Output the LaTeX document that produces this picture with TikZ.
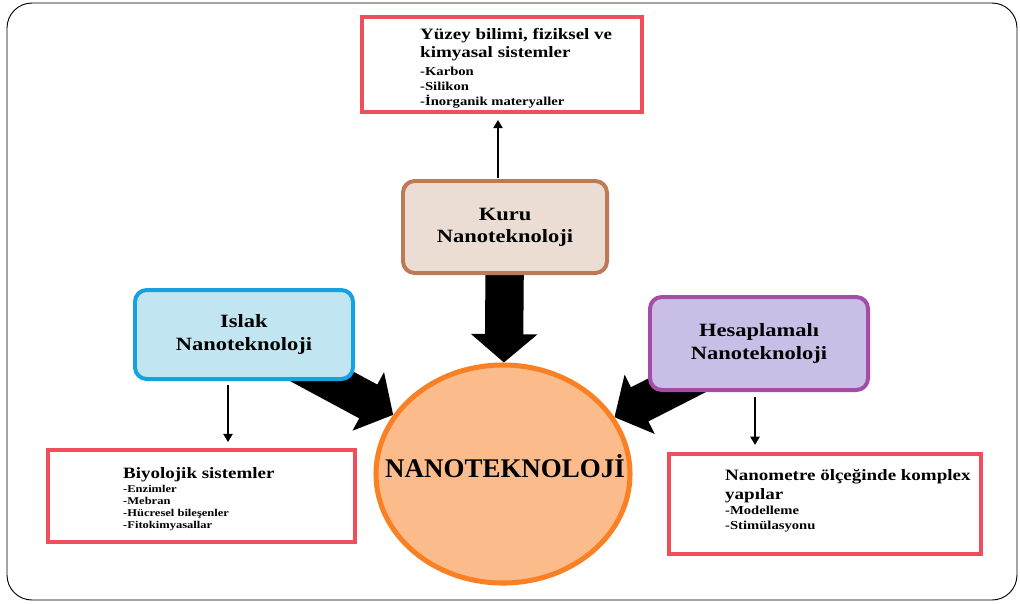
\documentclass[tikz,border=0pt]{standalone}
\usepackage{fontspec}
\setmainfont[FakeStretch=1.2]{Liberation Serif}
\newfontfamily\bigserif{Liberation Serif}
\usetikzlibrary{arrows.meta,shapes.geometric,backgrounds}

\definecolor{kurufill}{RGB}{235,221,212}
\definecolor{kurudraw}{RGB}{190,122,86}
\definecolor{islakfill}{RGB}{193,230,241}
\definecolor{islakdraw}{RGB}{22,162,226}
\definecolor{hesapfill}{RGB}{200,190,230}
\definecolor{hesapdraw}{RGB}{163,76,168}
\definecolor{boxred}{RGB}{240,78,90}
\definecolor{nanofill}{RGB}{252,187,138}
\definecolor{nanodraw}{RGB}{250,128,36}

\newcommand\titlefnt{\fontsize{16}{19}\selectfont\bfseries}
\newcommand\headfnt{\fontsize{13.5}{15.4}\selectfont\bfseries}
\newcommand\itemfnt{\fontsize{10.4}{12.6}\selectfont\bfseries}
\newcommand\smallitemfnt{\fontsize{8.9}{10.3}\selectfont\bfseries}

\tikzset{
  kind/.style={draw, line width=3.4pt, rounded corners=10pt, align=center, font=\titlefnt},
  redbox/.style={draw=boxred, line width=3.6pt},
  boxtext/.style={anchor=north west, inner sep=0pt, align=left},
  bigarrow/.style={line width=1.15cm, -{Triangle[length=0.85cm,width=1.95cm]}},
  thinarrow/.style={line width=1.2pt, -{Triangle[length=7pt,width=8pt]}}
}

\begin{document}
\begin{tikzpicture}[x=0.03cm,y=-0.03cm]
\useasboundingbox (0,0) rectangle (1020,603);
%\draw[help lines,step=50] (0,0) grid (1020,603);
\draw[line width=0.8pt, rounded corners=0.75cm] (7,3) rectangle (1017,600);

\node[kind, draw=kurudraw, fill=kurufill, minimum width=6.12cm, minimum height=2.76cm] (kuru) at (505,227) {Kuru\\Nanoteknoloji};
\node[kind, draw=islakdraw, fill=islakfill, minimum width=6.54cm, minimum height=2.67cm] (islak) at (244,334.5) {Islak\\Nanoteknoloji};
\node[kind, draw=hesapdraw, fill=hesapfill, minimum width=6.54cm, minimum height=2.79cm] (hesap) at (759,343.5) {Hesaplamalı\\Nanoteknoloji};
\node[ellipse, draw=nanodraw, fill=nanofill, line width=4.3pt, minimum width=7.62cm, minimum height=6.54cm] (nano) at (503,474) {};
\node[anchor=base, inner sep=0pt, font=\bigserif\fontsize{23}{26}\selectfont\bfseries] (nanolabel) at (505,477) {NANOTEKNOLOJİ};

\begin{scope}[on background layer]
\draw[bigarrow] (kuru.center) -- (nano);
\draw[bigarrow] (islak.center) -- (nano);
\draw[bigarrow] (hesap.center) -- (nano);
\end{scope}

% kutular
\node[redbox, minimum width=8.4cm, minimum height=2.85cm] (yuzey) at (502,64.5) {};
\node[boxtext, font=\itemfnt] (yuzeytxt) at (420,27.8) {\headfnt Yüzey bilimi, fiziksel ve\\[3pt] \headfnt kimyasal sistemler\\[3pt]
  -Karbon\\ -Silikon\\ -İnorganik materyaller};
\node[redbox, minimum width=9.21cm, minimum height=2.76cm] (biyo) at (201.5,496) {};
\node[boxtext, font=\smallitemfnt] (biyotxt) at (123,467) {\headfnt Biyolojik sistemler\\[1.7pt]
  -Enzimler\\ -Mebran\\ -Hücresel bileşenler\\ -Fitokimyasallar};
\node[redbox, minimum width=9.36cm, minimum height=3cm] (yapi) at (825,504) {};
\node[boxtext, font=\itemfnt] (yapitxt) at (725,469.5) {\headfnt Nanometre ölçeğinde komplex\\[3pt] \headfnt yapılar\\[0.4pt]
  -Modelleme\\ -Stimülasyonu};

\coordinate (upfoot) at (498,178);
\coordinate (wetfoot) at (228,385);
\coordinate (calcfoot) at (755,397);
\draw[thinarrow, shorten >=5pt] (upfoot) -- (upfoot |- yuzey.south);
\draw[thinarrow, shorten >=5pt] (wetfoot) -- (wetfoot |- biyo.north);
\draw[thinarrow, shorten >=6pt] (calcfoot) -- (calcfoot |- yapi.north);
\end{tikzpicture}
\end{document}
